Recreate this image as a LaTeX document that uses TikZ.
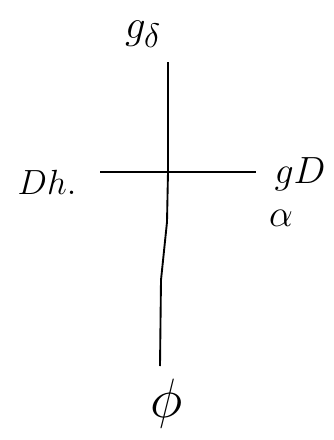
\documentclass[tikz,border=0pt]{standalone}
\usepackage{amsmath,amssymb}
\usetikzlibrary{positioning,calc}

\newcommand{\bigtxt}[2]{\scalebox{#1}{#2}}

\begin{document}
\begin{tikzpicture}[x=0.03cm, y=-0.03cm,
    lbl/.style={font=\Huge, inner sep=0pt},
    cross/.style={line width=1.6pt}]
    % Frame of the picture
    \useasboundingbox (0, 0) rectangle (334, 440);

    % End points of the cross
    \coordinate (c) at (168, 172);
    \coordinate (t) at (168, 62);
    \coordinate (l) at (100, 172);
    \coordinate (r) at (256, 172);
    \coordinate (k1) at (167, 222);
    \coordinate (k2) at (161, 280);
    \coordinate (b) at (160, 366);

    % Labels
    \node[lbl] (top) at (143, 34) {\bigtxt{1.4}{$g_{\delta}$}};
    \node[lbl] (left) at (47, 182) {\bigtxt{1.2}{$Dh.$}};
    \node[lbl] (right) at (300, 174) {\bigtxt{1.3}{$gD$}};
    \node[lbl] (rightsub) at (281, 218) {\bigtxt{1.3}{$\alpha$}};
    \node[lbl] (bottom) at (167, 404) {\bigtxt{1.9}{$\phi$}};

    % Cross
    \draw[cross] (l) -- (r);
    \draw[cross] (t) -- (c) -- (k1) -- (k2) -- (b);
\end{tikzpicture}
\end{document}
